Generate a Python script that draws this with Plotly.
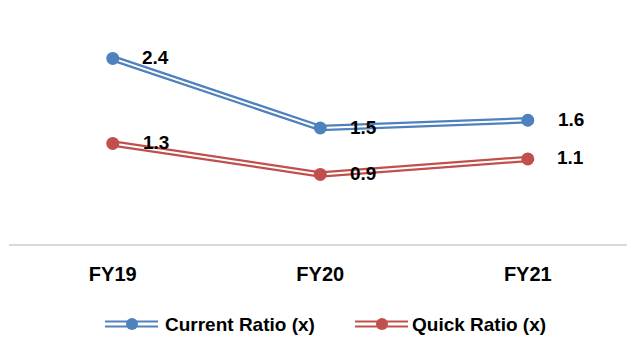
import plotly.graph_objects as go

# Liquidity ratios by fiscal year
years = ["FY19", "FY20", "FY21"]
current_ratio = [2.4, 1.5, 1.6]
quick_ratio = [1.3, 0.9, 1.1]
series_names = ["Current Ratio (x)", "Quick Ratio (x)"]

BLUE = "#4F81BD"
RED = "#C0504D"
FONT = "Liberation Sans, Arial, sans-serif"

fig = go.Figure()


def add_double_line(values, color):
    # thick coloured stroke with a thin white core gives a double-rule line
    fig.add_trace(go.Scatter(x=years, y=values, mode="lines",
                             line=dict(color=color, width=6.5),
                             hoverinfo="skip", showlegend=False))
    fig.add_trace(go.Scatter(x=years, y=values, mode="lines",
                             line=dict(color="white", width=2),
                             hoverinfo="skip", showlegend=False))
    fig.add_trace(go.Scatter(x=years, y=values, mode="markers",
                             marker=dict(color=color, size=13,
                                         line=dict(color=color, width=0)),
                             showlegend=False))
    for x, v in zip(years, values):
        fig.add_annotation(x=x, y=v, xref="x", yref="y", text=f"<b>{v:.1f}</b>",
                           showarrow=False, xanchor="center", yanchor="middle",
                           xshift=43, yshift=1,
                           font=dict(family=FONT, size=19, color="black"))


add_double_line(current_ratio, BLUE)
add_double_line(quick_ratio, RED)

# Hand-drawn legend with double-rule icons
legend_y = 324
items = [(105, 163, BLUE, series_names[0]), (355, 410, RED, series_names[1])]
for x0, tx, color, name in items:
    for seg in [(x0, x0 + 23), (x0 + 31, x0 + 53)]:
        for dy in (-2.5, 2.5):
            fig.add_shape(type="line", xref="paper", yref="paper",
                          x0=(seg[0] - 9) / 618, x1=(seg[1] - 9) / 618,
                          y0=(244 - legend_y - dy) / 232,
                          y1=(244 - legend_y - dy) / 232,
                          line=dict(color=color, width=2))
    cx = (x0 + 27 - 9) / 618
    cy = (244 - legend_y) / 232
    fig.add_shape(type="circle", xref="paper", yref="paper",
                  x0=cx - 6 / 618, x1=cx + 6 / 618,
                  y0=cy - 6 / 232, y1=cy + 6 / 232,
                  fillcolor=color, line=dict(color=color, width=0))
    fig.add_annotation(x=(tx - 9) / 618, y=cy, xref="paper", yref="paper",
                       text=f"<b>{name}</b>", showarrow=False,
                       xanchor="left", yanchor="middle",
                       font=dict(family=FONT, size=19, color="black"))

fig.update_layout(
    width=627, height=338,
    margin=dict(l=9, r=0, t=12, b=94),
    paper_bgcolor="white", plot_bgcolor="white",
    showlegend=False,
    font=dict(family=FONT, size=19, color="black"),
    xaxis=dict(type="category", range=[-0.5, 2.478],
               showline=True, linecolor="#D9D9D9", linewidth=1.5,
               showgrid=False, zeroline=False, ticks="",
               tickfont=dict(family=FONT, size=20, color="black"),
               ticklabelstandoff=11,
               tickvals=years, ticktext=[f"<b>{y}</b>" for y in years]),
    yaxis=dict(range=[0, 3], visible=False, showgrid=False, zeroline=False),
)

fig.write_html("out.html")
